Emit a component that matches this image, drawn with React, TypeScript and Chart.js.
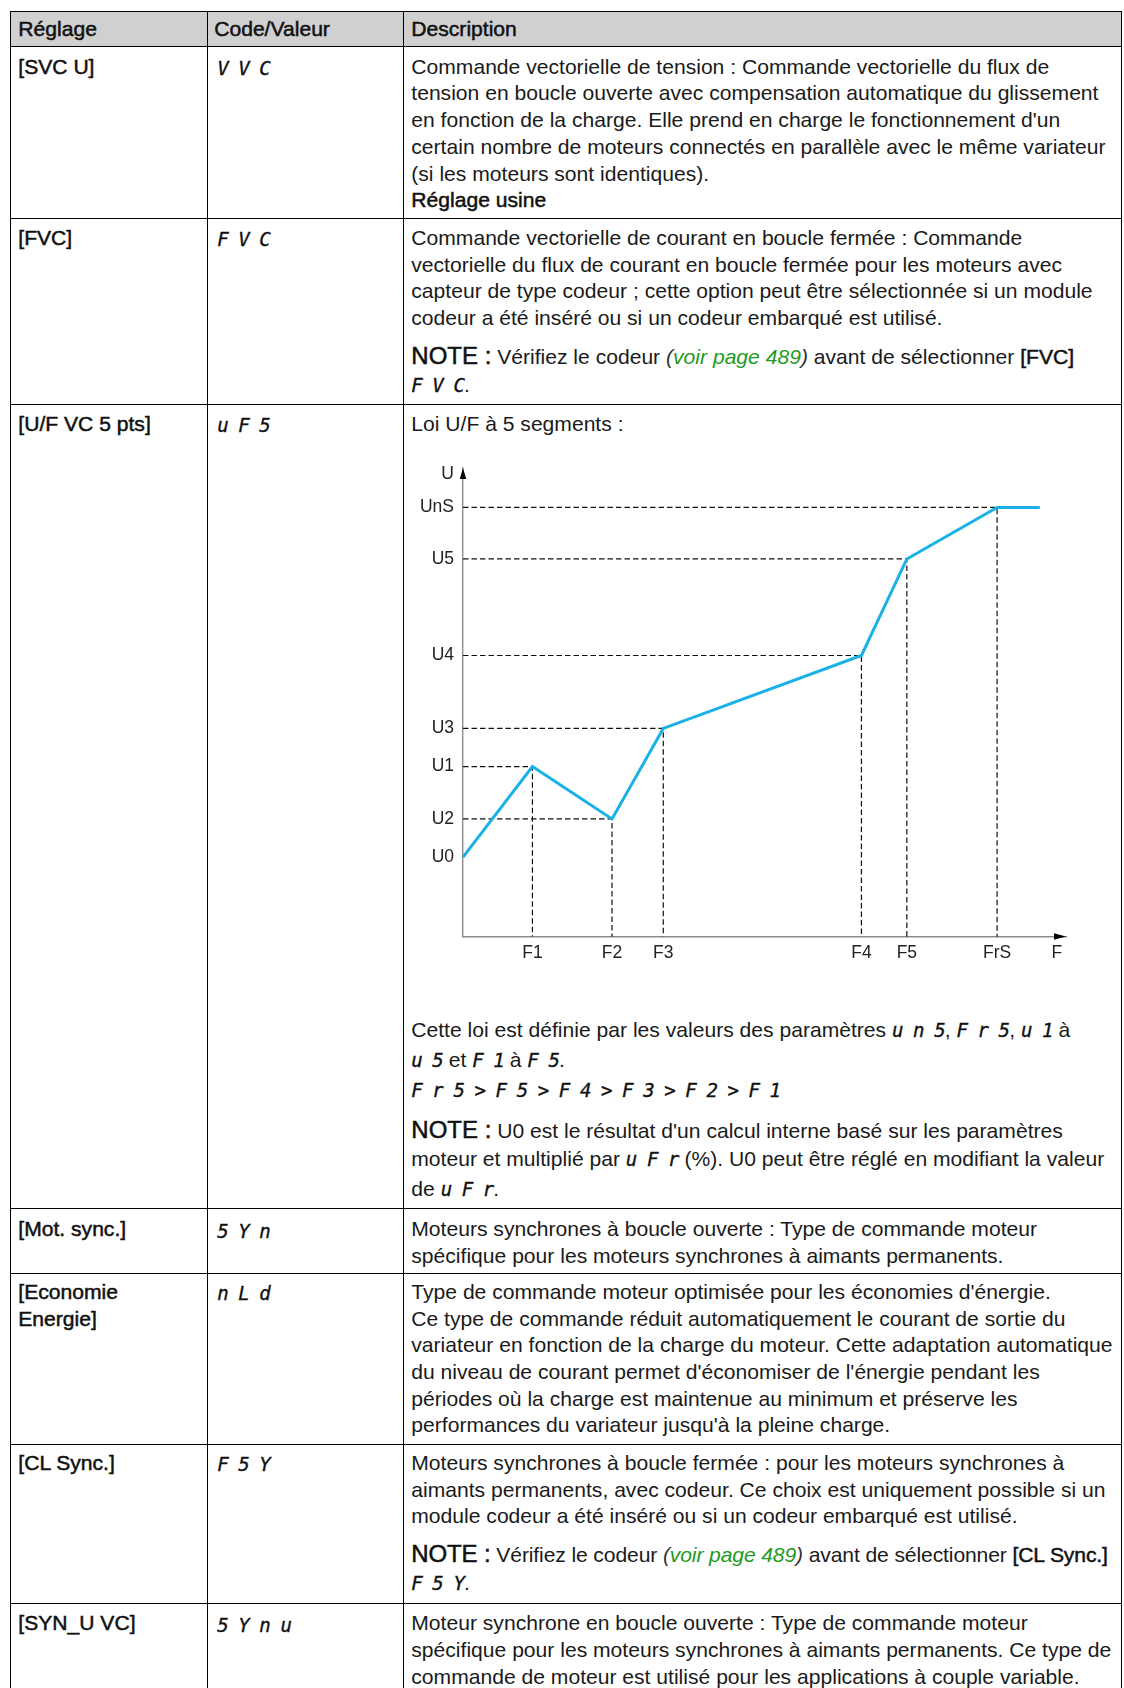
import React, { useEffect, useRef } from "react";
import { Chart, registerables } from "chart.js";

Chart.register(...registerables);

// ---- chart data (relative units) ----
const F_TICK_LABELS = ["F1", "F2", "F3", "F4", "F5", "FrS", "F"];
const F_TICK_VALUES = [13, 27.9, 37.5, 74.6, 83.1, 100, 111.2];
const U_TICK_LABELS = ["U0", "U2", "U1", "U3", "U4", "U5", "UnS", "U"];
const U_TICK_VALUES = [18.5, 27.4, 39.6, 48.5, 65.5, 88, 100, 107.8];
const CURVE_F = [0, 13, 27.9, 37.5, 74.6, 83.1, 100, 108];
const CURVE_U = [18.5, 39.6, 27.4, 48.5, 65.5, 88, 100, 100];
const F_MAX = 112.9;
const U_MAX = 109.2;

const FONT = '"Liberation Sans", Arial, sans-serif';
const GLYPH_FONT = '"DejaVu Sans Mono", monospace';
const TEXT = "#1a1a1a";

const arrowPlugin = {
  id: "axisArrows",
  afterDraw(chart: any) {
    const { ctx, scales } = chart;
    const x0 = scales.x.getPixelForValue(0);
    const xEnd = scales.x.getPixelForValue(F_MAX);
    const y0 = scales.y.getPixelForValue(0);
    const yEnd = scales.y.getPixelForValue(U_MAX);
    ctx.save();
    ctx.fillStyle = "#000";
    ctx.beginPath();
    ctx.moveTo(x0, yEnd);
    ctx.lineTo(x0 - 3.2, yEnd + 11);
    ctx.lineTo(x0 + 3.2, yEnd + 11);
    ctx.closePath();
    ctx.fill();
    ctx.beginPath();
    ctx.moveTo(xEnd, y0);
    ctx.lineTo(xEnd - 12, y0 - 3.2);
    ctx.lineTo(xEnd - 12, y0 + 3.2);
    ctx.closePath();
    ctx.fill();
    ctx.restore();
  },
};

function UFChart() {
  const ref = useRef<HTMLCanvasElement | null>(null);
  useEffect(() => {
    if (!ref.current) return;
    const guides: any[] = [];
    for (let i = 1; i <= 6; i++) {
      guides.push({
        type: "line",
        data: [
          { x: 0, y: CURVE_U[i] },
          { x: CURVE_F[i], y: CURVE_U[i] },
          { x: CURVE_F[i], y: 0 },
        ],
        borderColor: "#111",
        borderWidth: 1.2,
        borderDash: [5.5, 3],
        pointRadius: 0,
        fill: false,
        tension: 0,
        clip: false,
      });
    }
    const chart = new Chart(ref.current, {
      type: "line",
      data: {
        datasets: [
          {
            data: CURVE_F.map((f, i) => ({ x: f, y: CURVE_U[i] })),
            borderColor: "#19b1e6",
            borderWidth: 3,
            pointRadius: 0,
            fill: false,
            tension: 0,
            clip: false,
          } as any,
          ...guides,
        ],
      },
      options: {
        animation: false,
        responsive: false,
        devicePixelRatio: 1,
        layout: { padding: { top: 26, right: 45, left: 0, bottom: 0 } },
        plugins: { legend: { display: false }, tooltip: { enabled: false } },
        scales: {
          x: {
            type: "linear",
            min: 0,
            max: F_MAX,
            grid: { display: false, drawTicks: false },
            border: { display: true, color: "#8c8c8c", width: 1.4 },
            afterBuildTicks: (axis: any) => {
              axis.ticks = F_TICK_VALUES.map((v) => ({ value: v }));
            },
            afterFit: (s: any) => {
              s.height = 35.5;
            },
            ticks: {
              autoSkip: false,
              maxRotation: 0,
              padding: 6,
              color: "#222",
              font: { family: FONT, size: 17.5 },
              callback: (_v: any, i: number) => F_TICK_LABELS[i],
            },
          },
          y: {
            type: "linear",
            min: 0,
            max: U_MAX,
            grid: { display: false, drawTicks: false },
            border: { display: true, color: "#8c8c8c", width: 1.4 },
            afterBuildTicks: (axis: any) => {
              axis.ticks = U_TICK_VALUES.map((v) => ({ value: v }));
            },
            afterFit: (s: any) => {
              s.width = 52;
            },
            ticks: {
              autoSkip: false,
              padding: 9,
              color: "#222",
              font: { family: FONT, size: 17.5 },
              callback: (_v: any, i: number) => U_TICK_LABELS[i],
            },
          },
        },
      } as any,
      plugins: [arrowPlugin],
    });
    return () => chart.destroy();
  }, []);
  return (
    <canvas
      ref={ref}
      width={700}
      height={530}
      style={{ position: "absolute", left: 411, top: 441.5, width: 700, height: 530 }}
    />
  );
}

const heavy: React.CSSProperties = { WebkitTextStroke: "0.5px #111", color: "#111" };

function G({ t }: { t: string }) {
  return (
    <span
      style={{
        fontFamily: GLYPH_FONT,
        fontStyle: "italic",
        fontSize: 19,
        letterSpacing: "-0.9px",
        lineHeight: "29.8px",
        color: "#111",
        WebkitTextStroke: "0.35px #111",
      }}
    >
      {t}
    </span>
  );
}

function Note() {
  return <span style={{ ...heavy, fontSize: 24 }}>NOTE :</span>;
}

function Link() {
  return (
    <span style={{ fontStyle: "italic" }}>
      <span style={{ color: "#333" }}>(</span>
      <span style={{ color: "#1f9a1f" }}>voir page 489</span>
      <span style={{ color: "#333" }}>)</span>
    </span>
  );
}

function Block({ x, y, children, style }: { x: number; y: number; children: any; style?: React.CSSProperties }) {
  return (
    <div
      style={{
        position: "absolute",
        left: x,
        top: y,
        whiteSpace: "nowrap",
        fontFamily: FONT,
        fontSize: 21.1,
        lineHeight: "26.7px",
        color: TEXT,
        ...style,
      }}
    >
      {children}
    </div>
  );
}

const COL_X = [9.7, 206.7, 402.7, 1120.8];
const ROW_Y = [10.8, 46.3, 217.5, 403.7, 1208, 1272.5, 1443.7, 1603];
const TX = [18.3, 214.2, 411.3];

export default function App() {
  const hLines = ROW_Y.map((y, i) => (
    <div
      key={"h" + i}
      style={{ position: "absolute", left: COL_X[0], top: Math.round(y), width: COL_X[3] - COL_X[0] + 1, height: 1, background: "#000" }}
    />
  ));
  const vLines = COL_X.map((x, i) => (
    <div
      key={"v" + i}
      style={{ position: "absolute", left: Math.round(x), top: Math.round(ROW_Y[0]), width: 1, height: 1688, background: "#000" }}
    />
  ));
  return (
    <div style={{ position: "absolute", left: 0, top: 0, width: 1124, height: 1688, overflow: "hidden", background: "#fff" }}>
      <div
        style={{
          position: "absolute",
          left: COL_X[0],
          top: ROW_Y[0],
          width: COL_X[3] - COL_X[0],
          height: ROW_Y[1] - ROW_Y[0],
          background: "#d0d0d0",
        }}
      />
      {hLines}
      {vLines}

      {/* header */}
      <Block x={TX[0]} y={16} style={heavy}>Réglage</Block>
      <Block x={TX[1]} y={16} style={heavy}>Code/Valeur</Block>
      <Block x={TX[2]} y={16} style={heavy}>Description</Block>

      {/* row 1 */}
      <Block x={TX[0]} y={53.7} style={heavy}>[SVC U]</Block>
      <Block x={TX[1] + 3} y={52.9} style={{ lineHeight: "29.8px" }}><G t="V V C" /></Block>
      <Block x={TX[2]} y={53.7}>
        Commande vectorielle de tension : Commande vectorielle du flux de<br />
        tension en boucle ouverte avec compensation automatique du glissement<br />
        en fonction de la charge. Elle prend en charge le fonctionnement d'un<br />
        certain nombre de moteurs connectés en parallèle avec le même variateur<br />
        (si les moteurs sont identiques).<br />
        <span style={heavy}>Réglage usine</span>
      </Block>

      {/* row 2 */}
      <Block x={TX[0]} y={224.8} style={heavy}>[FVC]</Block>
      <Block x={TX[1] + 3} y={224} style={{ lineHeight: "29.8px" }}><G t="F V C" /></Block>
      <Block x={TX[2]} y={224.8}>
        Commande vectorielle de courant en boucle fermée : Commande<br />
        vectorielle du flux de courant en boucle fermée pour les moteurs avec<br />
        capteur de type codeur ; cette option peut être sélectionnée si un module<br />
        codeur a été inséré ou si un codeur embarqué est utilisé.
      </Block>
      <Block x={TX[2]} y={343.2}>
        <Note /> Vérifiez le codeur <Link /> avant de sélectionner <span style={heavy}>[FVC]</span>
        <br />
        <G t="F V C" />.
      </Block>

      {/* row 3 */}
      <Block x={TX[0]} y={411.1} style={heavy}>[U/F VC 5 pts]</Block>
      <Block x={TX[1] + 3} y={410.3} style={{ lineHeight: "29.8px" }}><G t="u F 5" /></Block>
      <Block x={TX[2]} y={411.1}>Loi U/F à 5 segments :</Block>
      <UFChart />
      <Block x={TX[2]} y={1016.4}>
        Cette loi est définie par les valeurs des paramètres <G t="u n 5" />, <G t="F r 5" />, <G t="u 1" /> à<br />
        <G t="u 5" /> et <G t="F 1" /> à <G t="F 5" />.<br />
        <G t="F r 5 > F 5 > F 4 > F 3 > F 2 > F 1" />
      </Block>
      <Block x={TX[2]} y={1117.3}>
        <Note /> U0 est le résultat d'un calcul interne basé sur les paramètres<br />
        moteur et multiplié par <G t="u F r" /> (%). U0 peut être réglé en modifiant la valeur<br />
        de <G t="u F r" />.
      </Block>

      {/* row 4 */}
      <Block x={TX[0]} y={1216.4} style={heavy}>[Mot. sync.]</Block>
      <Block x={TX[1] + 3} y={1215.6} style={{ lineHeight: "29.8px" }}><G t="5 Y n" /></Block>
      <Block x={TX[2]} y={1216.4}>
        Moteurs synchrones à boucle ouverte : Type de commande moteur<br />
        spécifique pour les moteurs synchrones à aimants permanents.
      </Block>

      {/* row 5 */}
      <Block x={TX[0]} y={1278.9} style={heavy}>[Economie<br />Energie]</Block>
      <Block x={TX[1] + 3} y={1278.1} style={{ lineHeight: "29.8px" }}><G t="n L d" /></Block>
      <Block x={TX[2]} y={1278.9}>
        Type de commande moteur optimisée pour les économies d'énergie.<br />
        Ce type de commande réduit automatiquement le courant de sortie du<br />
        variateur en fonction de la charge du moteur. Cette adaptation automatique<br />
        du niveau de courant permet d'économiser de l'énergie pendant les<br />
        périodes où la charge est maintenue au minimum et préserve les<br />
        performances du variateur jusqu'à la pleine charge.
      </Block>

      {/* row 6 */}
      <Block x={TX[0]} y={1449.9} style={heavy}>[CL Sync.]</Block>
      <Block x={TX[1] + 3} y={1449.1} style={{ lineHeight: "29.8px" }}><G t="F 5 Y" /></Block>
      <Block x={TX[2]} y={1449.9}>
        Moteurs synchrones à boucle fermée : pour les moteurs synchrones à<br />
        aimants permanents, avec codeur. Ce choix est uniquement possible si un<br />
        module codeur a été inséré ou si un codeur embarqué est utilisé.
      </Block>
      <Block x={TX[2]} y={1541.3} style={{ letterSpacing: "-0.12px" }}>
        <Note /> Vérifiez le codeur <Link /> avant de sélectionner <span style={heavy}>[CL Sync.]</span>
        <br />
        <G t="F 5 Y" />.
      </Block>

      {/* row 7 */}
      <Block x={TX[0]} y={1610.4} style={heavy}>[SYN_U VC]</Block>
      <Block x={TX[1] + 3} y={1609.6} style={{ lineHeight: "29.8px" }}><G t="5 Y n u" /></Block>
      <Block x={TX[2]} y={1610.4}>
        Moteur synchrone en boucle ouverte : Type de commande moteur<br />
        spécifique pour les moteurs synchrones à aimants permanents. Ce type de<br />
        commande de moteur est utilisé pour les applications à couple variable.
      </Block>
    </div>
  );
}
